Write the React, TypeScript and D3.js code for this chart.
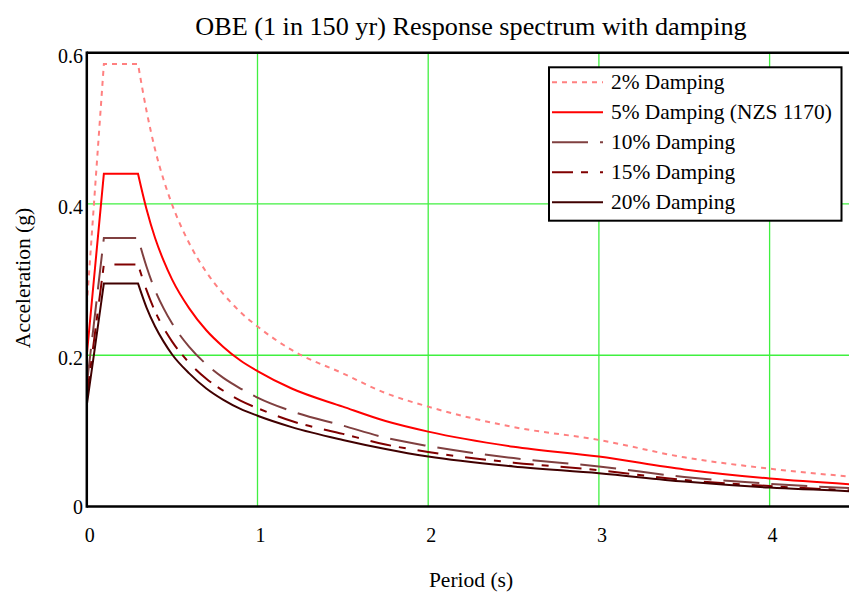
import React from "react";
import * as d3 from "d3";

const periods = [0, 0.05, 0.1, 0.3, 0.35, 0.4, 0.45, 0.5, 0.6, 0.7, 0.8, 0.9, 1.0, 1.2, 1.5, 1.75, 2.0, 2.5, 3.0, 3.5, 4.0, 4.5];
const damp2 = [0.266, 0.426, 0.585, 0.585, 0.523, 0.472, 0.432, 0.399, 0.348, 0.310, 0.281, 0.257, 0.238, 0.207, 0.176, 0.150, 0.132, 0.105, 0.088, 0.065, 0.050, 0.039];
const damp5 = [0.200, 0.320, 0.440, 0.440, 0.393, 0.355, 0.325, 0.300, 0.262, 0.233, 0.211, 0.193, 0.179, 0.156, 0.132, 0.113, 0.099, 0.079, 0.066, 0.049, 0.037, 0.029];
const damp10 = [0.161, 0.258, 0.355, 0.355, 0.317, 0.286, 0.262, 0.242, 0.211, 0.188, 0.170, 0.156, 0.144, 0.126, 0.107, 0.091, 0.080, 0.064, 0.053, 0.039, 0.030, 0.024];
const damp15 = [0.145, 0.233, 0.320, 0.320, 0.286, 0.258, 0.236, 0.218, 0.190, 0.169, 0.153, 0.140, 0.130, 0.113, 0.096, 0.082, 0.072, 0.058, 0.048, 0.035, 0.027, 0.021];
const damp20 = [0.134, 0.214, 0.295, 0.295, 0.263, 0.238, 0.218, 0.201, 0.176, 0.156, 0.141, 0.129, 0.120, 0.105, 0.088, 0.076, 0.066, 0.053, 0.044, 0.033, 0.025, 0.020];

const seriesNames = ["2% Damping", "5% Damping (NZS 1170)", "10% Damping", "15% Damping", "20% Damping"];
const seriesValues = [damp2, damp5, damp10, damp15, damp20];
const seriesColors = ["#ff8080", "#ff0000", "#804040", "#800000", "#400000"];
const seriesDash = ["5,5", "", "36,12", "21,8,7,12", ""];

const xTicks = [0, 1, 2, 3, 4];
const yTicks = [0, 0.2, 0.4, 0.6];
const yTickLabels = ["0", "0.2", "0.4", "0.6"];

const W = 849;
const H = 593;
const FONT = "'Liberation Serif', 'Times New Roman', serif";
const PLATEAU_END = 3; // index of the end of the flat plateau

export default function App() {
  const x = d3.scaleLinear().domain([0, 4.5]).range([86.8, 86.8 + 4.5 * 170.7]);
  const y = d3.scaleLinear().domain([0, 0.6]).range([506.5, 52.7]);
  const lineLin = d3
    .line<[number, number]>()
    .x((d) => x(d[0]))
    .y((d) => y(d[1]))
    .curve(d3.curveLinear);
  const lineSmooth = d3
    .line<[number, number]>()
    .x((d) => x(d[0]))
    .y((d) => y(d[1]))
    .curve(d3.curveMonotoneX);

  const pathFor = (vals: number[]) => {
    const pts = periods.map((p, j) => [p, vals[j]] as [number, number]);
    const a = lineLin(pts.slice(0, PLATEAU_END + 1)) || "";
    const b = (lineSmooth(pts.slice(PLATEAU_END)) || "").replace(/^M[^A-Za-z]*/, "");
    return a + b;
  };

  const left = x(0);
  const right = W;
  const top = y(0.6);
  const bottom = y(0);

  const legX = 549;
  const legY = 67.3;
  const legW = 292.5;
  const legH = 153.4;

  return (
    <svg
      width={W}
      height={H}
      style={{ position: "absolute", left: 0, top: 0, background: "#fff" }}
      fontFamily={FONT}
    >
      <defs>
        <clipPath id="plotclip">
          <rect x={left} y={top} width={right - left} height={bottom - top} />
        </clipPath>
      </defs>
      <rect x={0} y={0} width={W} height={H} fill="#fff" />
      {xTicks.filter((t) => t > 0).map((t) => (
        <line key={"gx" + t} x1={x(t)} x2={x(t)} y1={top} y2={bottom} stroke="#40f040" strokeWidth={1.3} />
      ))}
      {yTicks.filter((t) => t > 0 && t < 0.6).map((t) => (
        <line key={"gy" + t} x1={left} x2={right} y1={y(t)} y2={y(t)} stroke="#40f040" strokeWidth={1.3} />
      ))}
      <g clipPath="url(#plotclip)">
        {seriesValues.map((vals, i) => (
          <path
            key={"s" + i}
            d={pathFor(vals)}
            fill="none"
            stroke={seriesColors[i]}
            strokeWidth={2}
            strokeDasharray={seriesDash[i] || undefined}
          />
        ))}
      </g>
      <line x1={left} x2={right} y1={top} y2={top} stroke="#000" strokeWidth={2.5} />
      <line x1={left} x2={right} y1={bottom} y2={bottom} stroke="#000" strokeWidth={2.5} />
      <line x1={left} x2={left} y1={top - 1.2} y2={bottom + 1.2} stroke="#000" strokeWidth={2.5} />
      {yTicks.map((t, i) => (
        <text key={"yl" + t} x={83} y={y(t) + (t === 0 ? 7 : 10)} textAnchor="end" fontSize={20} fill="#000">
          {yTickLabels[i]}
        </text>
      ))}
      {xTicks.map((t) => (
        <text key={"xl" + t} x={x(t) + 3} y={542} textAnchor="middle" fontSize={20} fill="#000">
          {String(t)}
        </text>
      ))}
      <text x={471} y={587} textAnchor="middle" fontSize={21.5} fill="#000">
        Period (s)
      </text>
      <text transform={`translate(30,278) rotate(-90)`} textAnchor="middle" fontSize={21.5} fill="#000">
        Acceleration (g)
      </text>
      <text x={471} y={35} textAnchor="middle" fontSize={26.2} fill="#000">
        OBE (1 in 150 yr) Response spectrum with damping
      </text>
      <rect x={legX} y={legY} width={legW} height={legH} fill="#fff" stroke="#000" strokeWidth={2} />
      {seriesNames.map((name, i) => {
        const cy = 82.3 + i * 30;
        return (
          <g key={"lg" + i}>
            <line
              x1={552}
              x2={603}
              y1={cy}
              y2={cy}
              stroke={seriesColors[i]}
              strokeWidth={2}
              strokeDasharray={seriesDash[i] || undefined}
            />
            <text x={611} y={cy + 7} fontSize={21.4} fill="#000">
              {name}
            </text>
          </g>
        );
      })}
    </svg>
  );
}
